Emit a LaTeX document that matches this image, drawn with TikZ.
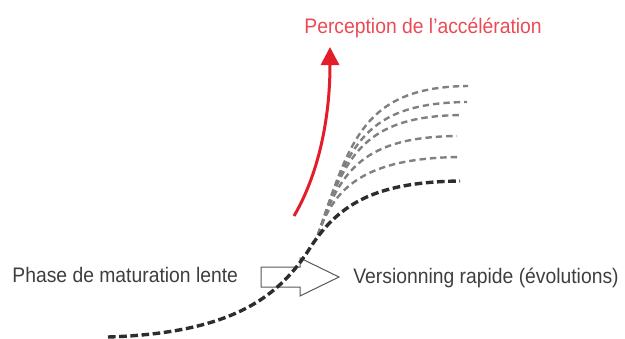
\documentclass[tikz,border=0pt]{standalone}
\usepackage{fontspec}
\setmainfont{Liberation Sans}[FakeStretch=0.92]
\definecolor{accelred}{RGB}{227, 30, 42}
\definecolor{labelred}{RGB}{234, 74, 84}
\definecolor{curvegray}{RGB}{128, 128, 128}
\definecolor{inkdark}{RGB}{45, 45, 45}
\definecolor{textgray}{RGB}{62, 62, 62}
\usepackage{tikz}
\usetikzlibrary{
  arrows.meta,
  positioning
}

\tikzset{
  lbl/.style={inner sep=0pt, anchor=base west, text=textgray,
              font=\fontsize{10.5}{12}\selectfont},
  maincurve/.style={draw=inkdark, line width=1.7pt, dash pattern=on 3.8pt off 1.8pt},
  branchcurve/.style={draw=curvegray, line width=1.2pt, dash pattern=on 3.2pt off 2pt},
  hollowarrow/.style={draw=gray!70!black, line width=0.5pt, fill=white, line join=miter},
  accelarrow/.style={draw=accelred, line width=1.5pt,
                     -{Triangle[length=9pt, width=9pt]}}
}

\begin{document}
\begin{tikzpicture}[x=0.5pt, y=-0.5pt]
\useasboundingbox (0,0) rectangle (625,338);

\node[lbl] (slow) at (12,282) {Phase de maturation lente};
\node[lbl] (fast) at (353,283) {Versionning rapide (évolutions)};
\node[lbl, text=labelred] (accel) at (304,33) {Perception de l’accélération};

\draw[hollowarrow] (261,267) coordinate (shiftback) -- (300,267) -- (300,258)
  -- (339,277) coordinate (shifttip) -- (300,296) -- (300,287) -- (261,287) -- cycle;

\coordinate (start) at (108,337);
\coordinate (split) at (318,235);
\coordinate (knee) at (310,248);
\coordinate (plateau) at (460,181);

\foreach \ex/\ey/\k in {468/86/32, 467/102/30, 462/115/27, 457/136/22, 460/157/16}
  \draw[branchcurve] (split) .. controls (318+\k,235-3*\k) and (365,\ey+1) .. (\ex,\ey);

\draw[maincurve] (start) .. controls (235,333) and (280,295) .. (knee)
  .. controls (340,201) and (380,182) .. (plateau);

\coordinate (risefoot) at (294,216);
\coordinate (risetip) at (330,47);
\draw[accelarrow] (risefoot) .. controls (318,175) and (330,120) .. (risetip);
\end{tikzpicture}
\end{document}
